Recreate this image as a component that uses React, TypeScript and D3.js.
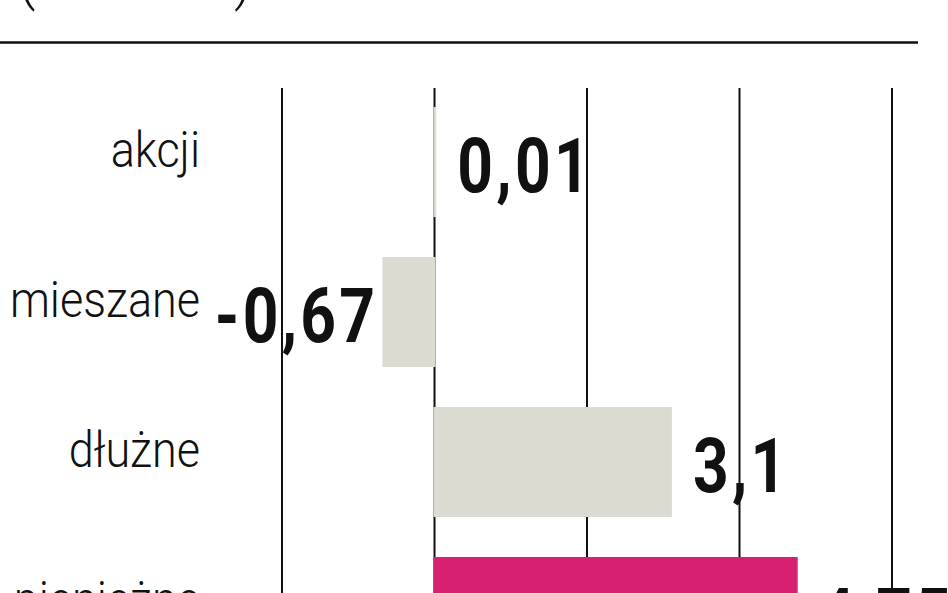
import React from "react";
import * as d3 from "d3";

const categories = ["akcji", "mieszane", "dłużne", "pieniężne"];
const values = [0.01, -0.67, 3.1, 4.75];
const valueLabels = ["0,01", "-0,67", "3,1", "4,75"];
const gridTicks = [-2, 0, 2, 4, 6];
const unitLabel = "(w mld zł)";

const W = 948;
const H = 593;
const GREY = "#dcdbd1";
const PINK = "#d6206f";

export default function App() {
  const x = d3.scaleLinear().domain([-2, 6]).range([282, 892]);
  const y = d3
    .scaleBand<string>()
    .domain(categories)
    .range([87, 687])
    .paddingInner(0.28)
    .paddingOuter(0.14);
  const bw = y.bandwidth();
  const labelFont = "Roboto, 'DejaVu Sans', sans-serif";
  const valueFont = "Roboto, 'DejaVu Sans', sans-serif";

  return (
    <svg
      width={W}
      height={H}
      style={{ position: "absolute", left: 0, top: 0, background: "#fff" }}
    >
      {/* unit label, mostly cut off at top */}
      <text
        x={18}
        y={-2}
        fontFamily={labelFont}
        fontWeight={300}
        fontSize={60}
        textLength={234}
        lengthAdjust="spacingAndGlyphs"
        fill="#111"
      >
        {unitLabel}
      </text>
      <line x1={0} x2={918} y1={42.5} y2={42.5} stroke="#111" strokeWidth={2.6} />

      {/* gridlines */}
      {gridTicks.map((t) => (
        <line
          key={t}
          x1={x(t)}
          x2={x(t)}
          y1={88}
          y2={H}
          stroke="#111"
          strokeWidth={2}
        />
      ))}

      {/* bars */}
      {categories.map((c, i) => {
        const v = values[i];
        const x0 = x(Math.min(0, v));
        const x1 = x(Math.max(0, v));
        const fill = i === categories.length - 1 ? PINK : GREY;
        return (
          <rect
            key={c}
            x={x0}
            y={y(c)!}
            width={x1 - x0}
            height={bw}
            fill={fill}
            stroke={fill}
            strokeWidth={2}
          />
        );
      })}

      {/* category labels */}
      {categories.map((c) => (
        <g key={c} transform={`translate(200,${y(c)! + bw / 2 + 5}) scale(0.9,1)`}>
          <text
            x={0}
            y={0}
            textAnchor="end"
            fontFamily={labelFont}
            fontWeight={300}
            fontSize={50}
            fill="#111"
          >
            {c}
          </text>
        </g>
      ))}

      {/* value labels */}
      {categories.map((c, i) => {
        const v = values[i];
        const cy = y(c)! + bw / 2 + 30;
        const neg = v < 0;
        const ax = neg ? x(v) - 5 : x(v) + 22;
        return (
          <g key={c} transform={`translate(${ax},${cy}) scale(0.82,1)`}>
            <text
              x={0}
              y={0}
              textAnchor={neg ? "end" : "start"}
              fontFamily={valueFont}
              fontWeight={700}
              fontSize={76}
              letterSpacing={4}
              fill="#111"
            >
              {valueLabels[i]}
            </text>
          </g>
        );
      })}
    </svg>
  );
}
